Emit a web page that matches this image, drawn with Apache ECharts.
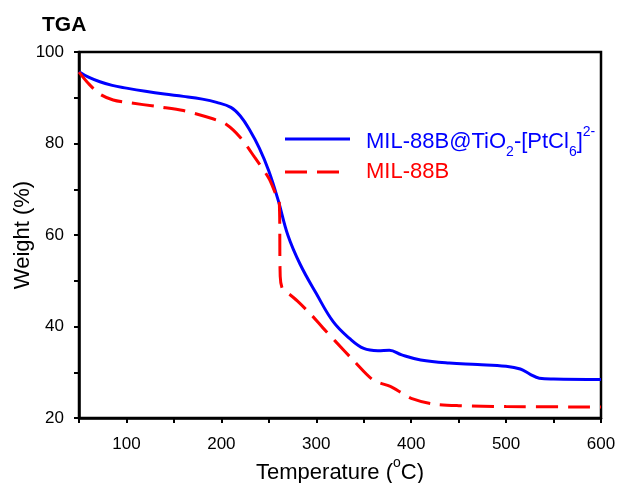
<!DOCTYPE html>
<html><head><meta charset="utf-8">
<script src="https://cdn.jsdelivr.net/npm/echarts@6/dist/echarts.min.js"></script>
<style>html,body{margin:0;padding:0;background:#fff}#c{width:618px;height:483px}</style>
</head><body><div id="c"></div>
<script>
const seriesNames = ['MIL-88B@TiO2-[PtCl6]2-', 'MIL-88B'];
const compositeT = [50,60,72,85,100,120,140,160,180,195,210,220,230,240,250,260,270,283,300,318,335,350,365,377,390,410,440,470,500,515,525,535,550,600];
const compositeW = [95.7,94.5,93.5,92.7,92.1,91.4,90.8,90.3,89.7,89.0,87.9,86.0,82.9,79.0,74.0,67.5,60.0,53.6,47.2,41.0,37.4,35.2,34.7,34.8,33.8,32.7,32.0,31.7,31.3,30.7,29.6,28.7,28.5,28.4];
const mofT = [50,60,72,86,100,135,160,191,205,220,235,250,258,261,262,264,268,272,280,295,307,320,340,360,378,390,400,422,450,500,600];
const mofW = [95.6,93.1,90.8,89.5,89.0,88.0,87.2,85.4,84.2,81.3,77.0,72.4,68.6,67.3,51.0,48.4,47.6,47.0,45.6,42.5,39.7,36.8,32.4,28.3,26.9,25.5,24.3,23.1,22.7,22.5,22.4];
const xTickLabels = [100,200,300,400,500,600];
const yTickLabels = [20,40,60,80,100];

const zip = (a,b) => a.map((v,i)=>[v,b[i]]);
const chart = echarts.init(document.getElementById('c'), null, {renderer:'canvas'});
const FONT = 'Liberation Sans, Arial, sans-serif';
const richMain = (color) => ({
  a:{fontFamily:FONT, fontSize:22, lineHeight:34, verticalAlign:'middle', color, fill:color},
  s:{fontFamily:FONT, fontSize:14, lineHeight:14, verticalAlign:'bottom', color, fill:color},
  p:{fontFamily:FONT, fontSize:14, lineHeight:14, verticalAlign:'top', color, fill:color}
});
chart.setOption({
  animation:false,
  title:{text:'TGA', left:42, top:15, padding:0, textStyle:{fontFamily:FONT, fontWeight:'bold', fontSize:21, color:'#000'}},
  grid:{left:79, right:17, top:52, bottom:65, outerBoundsMode:'none', containLabel:false,
        show:true, borderColor:'#000', borderWidth:2.5, backgroundColor:'transparent'},
  graphic:[
    {type:'line', shape:{x1:285, y1:139, x2:350, y2:139}, style:{stroke:'#0000ff', lineWidth:3}},
    {type:'line', shape:{x1:285, y1:172, x2:340, y2:172}, style:{stroke:'#ff0000', lineWidth:3, lineDash:[22,10]}},
    {type:'text', x:366, y:125, style:{text:'{a|MIL-88B@TiO}{s|2}{a|-[PtCl}{s|6}{a|]}{p|2-}', rich:richMain('#0000ff'), fill:'#0000ff', verticalAlign:'top', align:'left'}},
    {type:'text', x:366, y:155, style:{text:'{a|MIL-88B}', rich:richMain('#ff0000'), fill:'#ff0000', verticalAlign:'top', align:'left'}}
  ],
  xAxis:{type:'value', min:50, max:600, interval:50,
    name:'{a|Temperature (}{p|o}{a|C)}', nameLocation:'middle', nameGap:38, nameMoveOverlap:false,
    nameTextStyle:{rich:richMain('#000')},
    axisLine:{lineStyle:{color:'#000', width:2.5}},
    axisTick:{inside:false, length:5, lineStyle:{color:'#000', width:2}},
    splitLine:{show:false},
    axisLabel:{fontFamily:FONT, fontSize:17, color:'#000', margin:18,
      formatter:v => xTickLabels.includes(v) ? String(v) : ''}
  },
  yAxis:{type:'value', min:20, max:100, interval:10,
    name:'Weight (%)', nameLocation:'middle', nameGap:45, nameMoveOverlap:false,
    nameTextStyle:{fontFamily:FONT, fontSize:22, color:'#000'},
    axisLine:{lineStyle:{color:'#000', width:2.5}},
    axisTick:{inside:false, length:5, lineStyle:{color:'#000', width:2}},
    splitLine:{show:false},
    axisLabel:{fontFamily:FONT, fontSize:17, color:'#000', margin:15,
      formatter:v => yTickLabels.includes(v) ? String(v) : ''}
  },
  series:[
    {name:seriesNames[0], type:'line', data:zip(compositeT, compositeW), showSymbol:false, symbol:'none',
     smooth:0.4, color:'#0000ff', lineStyle:{color:'#0000ff', width:3}},
    {name:seriesNames[1], type:'line', data:zip(mofT, mofW), showSymbol:false, symbol:'none',
     smooth:0.3, color:'#ff0000', lineStyle:{color:'#ff0000', width:3, type:[22,10]}}
  ]
});
</script></body></html>
